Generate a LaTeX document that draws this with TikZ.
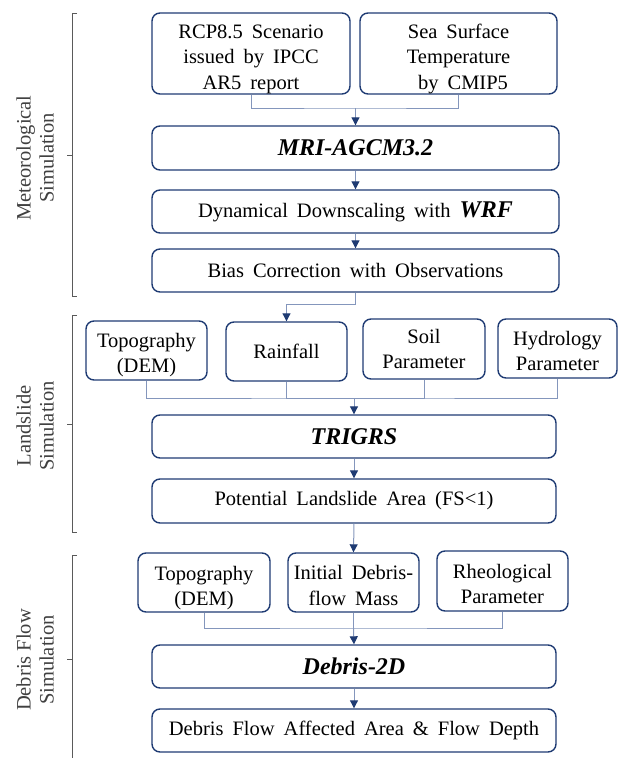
\documentclass[tikz,border=0pt]{standalone}
\usepackage{fontspec}
\setmainfont{Liberation Serif}
\usetikzlibrary{arrows.meta}
\definecolor{boxblue}{HTML}{1F3B73}
\definecolor{linkblue}{HTML}{8496BC}
\definecolor{brk}{HTML}{5A5A5A}
\tikzset{
  txt/.style={font={\fontsize{20.5}{25.5}\selectfont\spaceskip=0.44em\relax}},
  box/.style={txt, draw=boxblue, line width=1.4pt, rounded corners=8pt, align=center, inner sep=0pt},
  conn/.style={draw=linkblue, line width=1pt},
  arr/.style={conn, -{Triangle[length=8pt,width=8pt,color=boxblue]}},
  brack/.style={draw=brk, line width=1pt},
  side/.style={font={\fontsize{20.5}{23}\selectfont}, rotate=90, align=center, text=black!75, inner sep=0pt}
}
\newcommand{\bi}[1]{{\fontsize{24}{25.5}\selectfont\textbf{\textit{#1}}}}
\newcommand{\dn}[1]{\rule{0pt}{#1}}
\begin{document}
\begin{tikzpicture}[x=1pt,y=-1pt]
\useasboundingbox (0,0) rectangle (619,758);
% Meteorological
\node[box, minimum width=198pt, minimum height=81pt] (rcp) at (251,53.5) {\dn{25pt}RCP8.5 Scenario\\issued by IPCC\\AR5 report};
\node[box, minimum width=197pt, minimum height=81pt] (sst) at (458.5,53.5) {\dn{25pt}Sea Surface\\Temperature\\\ by CMIP5};
\node[box, minimum width=407pt, minimum height=44pt] (mri) at (355.5,148) {\bi{MRI-AGCM3.2}};
\node[box, minimum width=407pt, minimum height=43pt] (dyn) at (355.5,211.5) {Dynamical Downscaling with \bi{WRF}};
\node[box, minimum width=407pt, minimum height=43pt] (bias) at (355.5,270.5) {Bias Correction with Observations};
% Landslide
\node[box, minimum width=121pt, minimum height=59pt] (topa) at (146.5,350.5) {\dn{23pt}Topography\\(DEM)};
\node[box, minimum width=121pt, minimum height=59pt] (rain) at (286.5,351.5) {Rainfall};
\node[box, minimum width=122pt, minimum height=60pt] (soil) at (424,349) {Soil\\Parameter};
\node[box, minimum width=119pt, minimum height=59pt] (hydro) at (557.5,348.5) {\dn{19pt}Hydrology\\Parameter};
\node[box, minimum width=404pt, minimum height=43pt] (trig) at (354,436.5) {\bi{TRIGRS}};
\node[box, minimum width=404pt, minimum height=44pt] (pot) at (354,501) {Potential Landslide Area (FS<1)};
% Debris
\node[box, minimum width=132pt, minimum height=59pt] (topb) at (204,582.5) {\dn{25pt}Topography\\(DEM)};
\node[box, minimum width=131pt, minimum height=59pt] (init) at (353.5,582.5) {\dn{20pt}Initial Debris-\\flow Mass};
\node[box, minimum width=131pt, minimum height=60pt] (rheo) at (502.5,581) {\dn{20pt}Rheological\\Parameter};
\node[box, minimum width=404pt, minimum height=43pt] (deb) at (354,666.5) {\bi{Debris-2D}};
\node[box, minimum width=404pt, minimum height=43pt] (fin) at (354,730.5) {Debris Flow Affected Area \& Flow Depth};
% connectors
\coordinate (ja) at (355.5,108);
\draw[conn] (rcp.south) |- (ja) -| (sst.south);
\draw[arr] (ja) -- (mri.north);
\draw[arr] (mri.south) -- (dyn.north);
\draw[arr] (dyn.south) -- (bias.north);
\coordinate (jb) at (355.5,304);
\draw[arr] (bias.south) -- (jb) -| (rain.north);
\coordinate (jc) at (354,398);
\draw[conn] (topa.south) |- (jc) -| (hydro.south);
\draw[conn] (rain.south) |- (jc);
\draw[conn] (soil.south) |- (jc);
\draw[arr] (jc) -- (trig.north);
\draw[arr] (trig.south) -- (pot.north);
\draw[arr] (pot.south) -- (init.north);
\coordinate (jd) at (353.5,628);
\draw[conn] (topb.south) |- (jd) -| (rheo.south);
\draw[conn] (init.south) -- (jd);
\draw[arr] (jd) -- (deb.north);
\draw[arr] (deb.south) -- (fin.north);
% brackets
\draw[brack] (77,13) -- (72,13) -- (72,296) -- (77,296);
\draw[brack] (72,155) -- (67,155);
\draw[brack] (77,315) -- (72,315) -- (72,532) -- (77,532);
\draw[brack] (72,424) -- (67,424);
\draw[brack] (77,555) -- (72,555) -- (72,760);
\draw[brack] (72,659) -- (67,659);
% side labels
\node[side] (lmet) at (35,158) {Meteorological\\Simulation};
\node[side] (lland) at (35,426) {Landslide\\Simulation};
\node[side] (ldeb) at (35,660) {Debris Flow\\Simulation};
\end{tikzpicture}
\end{document}
